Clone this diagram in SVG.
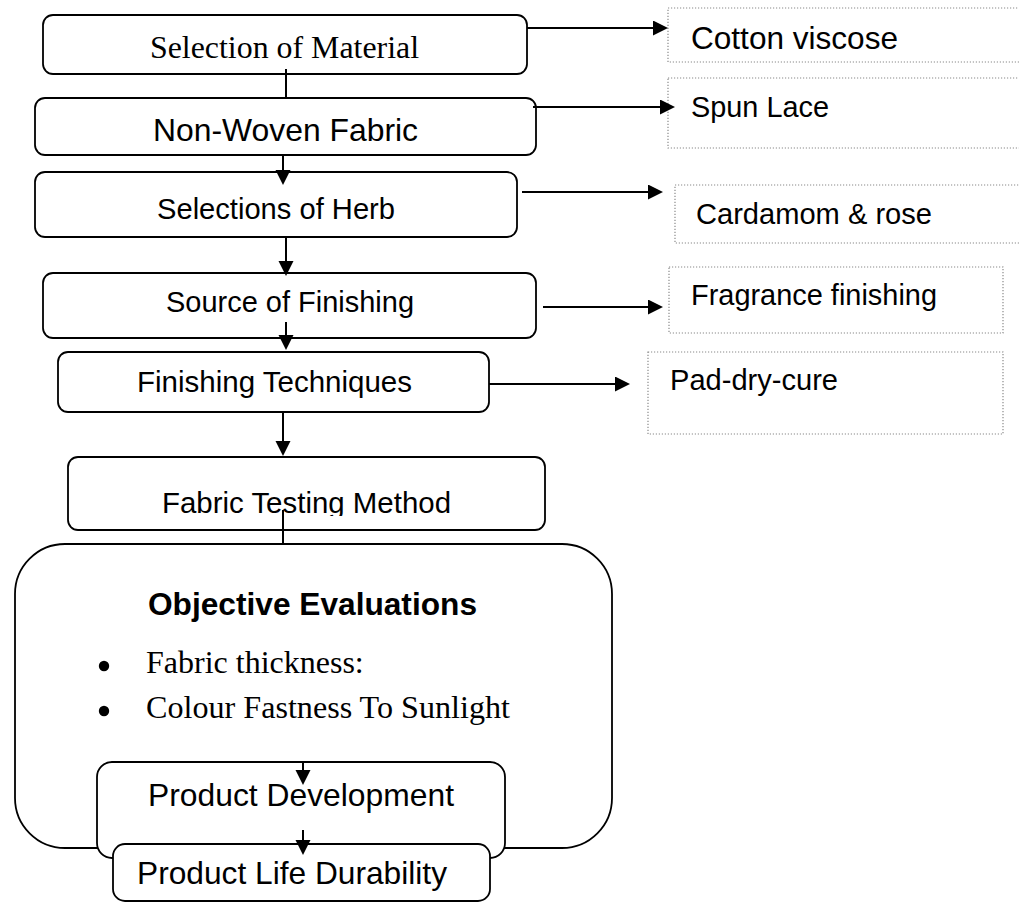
<svg xmlns="http://www.w3.org/2000/svg" width="1019" height="903" viewBox="0 0 1019 903">
<style>
.box{fill:#fff;stroke:#000;stroke-width:1.8}
.dot{fill:#fff;stroke:#8a8a8a;stroke-width:1.2;stroke-dasharray:1.2 1.8}
.sans{font-family:"Liberation Sans",Arial,sans-serif;fill:#000}
.serif{font-family:"Liberation Serif","Times New Roman",serif;fill:#000}
.ln{stroke:#000;stroke-width:2;fill:none}
</style>
<defs>
<marker id="ah" markerUnits="userSpaceOnUse" markerWidth="17" markerHeight="16" refX="10" refY="7.5" orient="auto">
<path d="M0,0 L15,7.5 L0,15 z" fill="#000"/>
</marker>
<clipPath id="ftmclip"><rect x="60" y="440" width="500" height="76"/></clipPath>
</defs>
<rect width="1019" height="903" fill="#fff"/>

<g id="node-big">
<rect class="box" x="15" y="544" width="597" height="304" rx="50"/>
<text class="sans" x="148" y="615" font-size="30.5" font-weight="bold" textLength="329" lengthAdjust="spacingAndGlyphs">Objective Evaluations</text>
<circle cx="104" cy="666" r="5.2" fill="#000"/>
<text class="serif" x="146" y="673" font-size="32">Fabric thickness:</text>
<circle cx="104" cy="711" r="5.2" fill="#000"/>
<text class="serif" x="146" y="718" font-size="32" textLength="364" lengthAdjust="spacingAndGlyphs">Colour Fastness To Sunlight</text>
</g>

<g id="node-pd">
<rect class="box" x="97" y="762" width="408" height="96" rx="15"/>
<text class="sans" x="148" y="806" font-size="31.5" textLength="306" lengthAdjust="spacingAndGlyphs">Product Development</text>
</g>

<g id="node-pld">
<rect class="box" x="113" y="844" width="377" height="57" rx="12"/>
<text class="sans" x="137" y="884" font-size="31.5" textLength="310" lengthAdjust="spacingAndGlyphs">Product Life Durability</text>
</g>

<g id="node-material">
<rect class="box" x="43" y="15" width="484" height="59" rx="10"/>
<text class="serif" x="150" y="58" font-size="32" textLength="269" lengthAdjust="spacingAndGlyphs">Selection of Material</text>
</g>

<g id="node-nonwoven">
<rect class="box" x="35" y="98" width="501" height="57" rx="10"/>
<text class="sans" x="153" y="141" font-size="31.5" textLength="265" lengthAdjust="spacingAndGlyphs">Non-Woven Fabric</text>
</g>

<g id="node-herb">
<rect class="box" x="35" y="172" width="482" height="65" rx="10"/>
<text class="sans" x="157" y="219" font-size="29" textLength="238" lengthAdjust="spacingAndGlyphs">Selections of Herb</text>
</g>

<g id="node-source">
<rect class="box" x="43" y="273" width="493" height="65" rx="10"/>
<text class="sans" x="166" y="312" font-size="29" textLength="248" lengthAdjust="spacingAndGlyphs">Source of Finishing</text>
</g>

<g id="node-techniques">
<rect class="box" x="58" y="352" width="431" height="60" rx="10"/>
<text class="sans" x="137" y="392" font-size="29" textLength="275" lengthAdjust="spacingAndGlyphs">Finishing Techniques</text>
</g>

<g id="node-testing">
<rect class="box" x="68" y="457" width="477" height="73" rx="10"/>
<text class="sans" x="162" y="513" font-size="29" textLength="289" lengthAdjust="spacingAndGlyphs" clip-path="url(#ftmclip)">Fabric Testing Method</text>
</g>

<g id="node-cotton">
<rect class="dot" x="668" y="8" width="360" height="54"/>
<text class="sans" x="691" y="49" font-size="31.5" textLength="207" lengthAdjust="spacingAndGlyphs">Cotton viscose</text>
</g>

<g id="node-spunlace">
<rect class="dot" x="668" y="78" width="360" height="70"/>
<text class="sans" x="691" y="117" font-size="29" textLength="138" lengthAdjust="spacingAndGlyphs">Spun Lace</text>
</g>

<g id="node-cardamom">
<rect class="dot" x="675" y="185" width="353" height="58"/>
<text class="sans" x="696" y="224" font-size="29" textLength="236" lengthAdjust="spacingAndGlyphs">Cardamom &amp; rose</text>
</g>

<g id="node-fragrance">
<rect class="dot" x="669" y="267" width="334" height="66"/>
<text class="sans" x="691" y="305" font-size="29" textLength="246" lengthAdjust="spacingAndGlyphs">Fragrance finishing</text>
</g>

<g id="node-pad">
<rect class="dot" x="648" y="352" width="355" height="82"/>
<text class="sans" x="670" y="390" font-size="29" textLength="168" lengthAdjust="spacingAndGlyphs">Pad-dry-cure</text>
</g>

<g id="connectors">
<line class="ln" x1="286" y1="69" x2="286" y2="98"/>
<line class="ln" x1="283" y1="155" x2="283" y2="180" marker-end="url(#ah)"/>
<line class="ln" x1="286" y1="237" x2="286" y2="271" marker-end="url(#ah)"/>
<line class="ln" x1="286" y1="322" x2="286" y2="345" marker-end="url(#ah)"/>
<line class="ln" x1="283" y1="412" x2="283" y2="451" marker-end="url(#ah)"/>
<line class="ln" x1="283" y1="510" x2="283" y2="544"/>
<line class="ln" x1="303" y1="762" x2="303" y2="780" marker-end="url(#ah)"/>
<line class="ln" x1="303" y1="830" x2="303" y2="850" marker-end="url(#ah)"/>
<line class="ln" x1="527" y1="28" x2="663" y2="28" marker-end="url(#ah)"/>
<line class="ln" x1="533" y1="107" x2="670" y2="107" marker-end="url(#ah)"/>
<line class="ln" x1="522" y1="192" x2="658" y2="192" marker-end="url(#ah)"/>
<line class="ln" x1="543" y1="307" x2="658" y2="307" marker-end="url(#ah)"/>
<line class="ln" x1="489" y1="384" x2="625" y2="384" marker-end="url(#ah)"/>
</g>
</svg>
